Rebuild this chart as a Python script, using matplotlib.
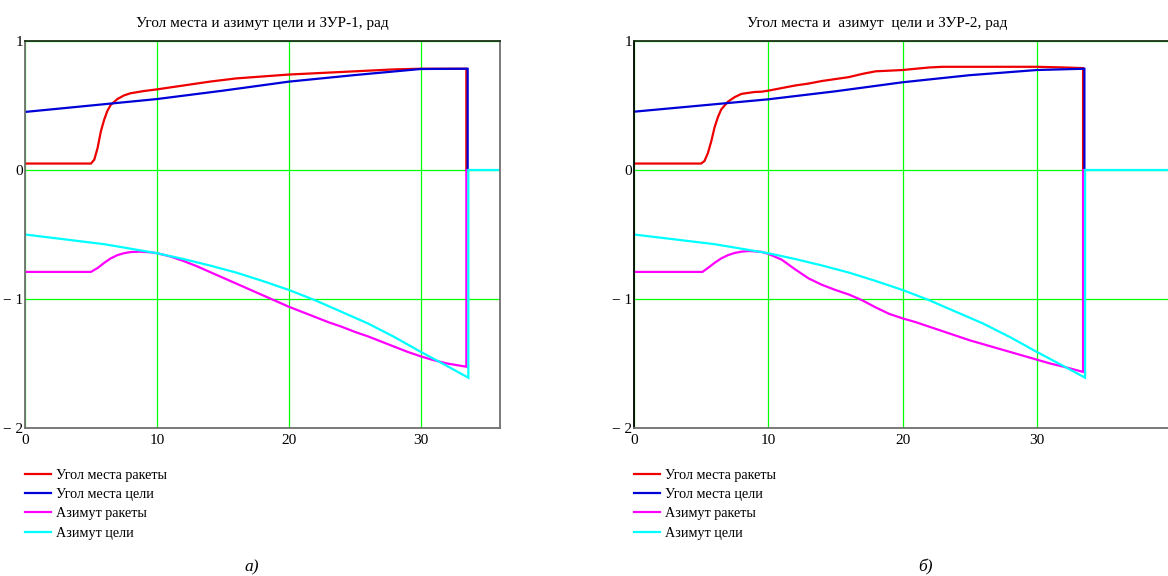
'''recreate the two Mathcad-style plots: elevation and azimuth of target and missile'''
import matplotlib
matplotlib.use('Agg')
import matplotlib.pyplot as plt

plt.rcParams['font.family'] = ['Liberation Serif', 'DejaVu Serif']

# ---- data ----
# panel a) ZUR-1
t_red1 = [0, 5, 5.25, 5.5, 5.75, 6, 6.25, 6.5, 7, 7.5, 8, 9, 10, 12, 14, 16, 18, 20,
          22, 24, 26, 28, 30, 32, 33.45, 33.45]
red1 = [0.05, 0.05, 0.08, 0.17, 0.3, 0.39, 0.46, 0.505, 0.55, 0.578, 0.595, 0.612,
        0.625, 0.655, 0.685, 0.71, 0.725, 0.74, 0.75, 0.76, 0.77, 0.78, 0.785, 0.785,
        0.785, 0]

t_blue = [0, 5, 10, 15, 20, 25, 30, 33.55, 33.55]
blue1 = [0.45, 0.50, 0.55, 0.615, 0.685, 0.736, 0.783, 0.785, 0]

t_mag1 = [0, 5, 5.5, 6, 6.5, 7, 7.5, 8, 8.7, 9.5, 10, 11, 12, 13, 14, 15, 16, 17,
          18, 19, 20, 21, 22, 23, 24, 25, 26, 27, 28, 29, 30, 31, 32, 33.45, 33.45]
mag1 = [-0.79, -0.79, -0.76, -0.72, -0.685, -0.66, -0.645, -0.636, -0.633, -0.638,
        -0.645, -0.67, -0.705, -0.745, -0.79, -0.835, -0.88, -0.925, -0.97, -1.015,
        -1.06, -1.10, -1.14, -1.18, -1.215, -1.255, -1.29, -1.33, -1.37, -1.41,
        -1.445, -1.475, -1.50, -1.525, 0]

t_cyan = [0, 2, 4, 6, 8, 10, 12, 14, 16, 18, 20, 22, 24, 26, 28, 30, 32, 33.6,
          33.6, 40]
cyan1 = [-0.50, -0.525, -0.55, -0.575, -0.61, -0.645, -0.69, -0.74, -0.795, -0.86,
         -0.93, -1.01, -1.10, -1.19, -1.295, -1.41, -1.52, -1.61, 0, 0]

# panel б) ZUR-2
t_red2 = [0, 5, 5.25, 5.5, 5.75, 6, 6.25, 6.5, 7, 7.5, 8, 9, 9.5, 10, 11, 12, 13, 14,
          15, 16, 17, 18, 19, 20, 21, 22, 23, 25, 28, 30, 32, 33.45, 33.45]
red2 = [0.05, 0.05, 0.07, 0.13, 0.22, 0.33, 0.41, 0.47, 0.53, 0.565, 0.59, 0.605,
        0.607, 0.615, 0.635, 0.655, 0.67, 0.69, 0.705, 0.72, 0.745, 0.765, 0.77,
        0.775, 0.785, 0.795, 0.80, 0.80, 0.80, 0.80, 0.795, 0.79, 0]

blue2 = [0.452, 0.50, 0.548, 0.61, 0.68, 0.735, 0.775, 0.785, 0]

t_mag2 = [0, 5.1, 5.5, 6, 6.5, 7, 7.5, 8, 8.6, 9.5, 10, 11, 12, 13, 14, 15, 16, 17,
          18, 19, 20, 21, 22, 23, 24, 25, 26, 27, 28, 29, 30, 31, 32, 33.45, 33.45]
mag2 = [-0.79, -0.79, -0.76, -0.72, -0.685, -0.66, -0.643, -0.633, -0.628, -0.635,
        -0.65, -0.695, -0.77, -0.84, -0.89, -0.93, -0.965, -1.01, -1.065, -1.115,
        -1.15, -1.18, -1.215, -1.25, -1.285, -1.32, -1.35, -1.38, -1.41, -1.44,
        -1.47, -1.50, -1.525, -1.565, 0]

cyan2 = cyan1

labels = ['Угол места ракеты', 'Угол места цели', 'Азимут ракеты', 'Азимут цели']
colors = ['#ee0000', '#0000d8', '#ff00ff', '#00ffff']
xticks = [0, 10, 20, 30]
yticks = [1, 0, -1, -2]
yticklabels = ['1', '0', '\u2212 1', '\u2212 2']
titles = ['Угол места и азимут цели и ЗУР-1, рад', 'Угол места и  азимут  цели и ЗУР-2, рад']
captions = ['а)', 'б)']

W, H = 1168, 576
fig = plt.figure(figsize=(W / 100, H / 100), dpi=100)

# axes boxes in pixels: left, right, top, bottom
boxes = [(25, 500, 41, 428), (634, 1171, 41, 428)]
xmaxs = [36, 40]
title_x = [262, 877]
caption_x = [252, 925]
left_spine = ['#707070', '#000000']

series = [
    [(t_red1, red1), (t_blue, blue1), (t_mag1, mag1), (t_cyan, cyan1)],
    [(t_red2, red2), (t_blue, blue2), (t_mag2, mag2), (t_cyan, cyan2)],
]

for i in range(2):
    l, r, top, bot = boxes[i]
    ax = fig.add_axes([l / W, 1 - bot / H, (r - l) / W, (bot - top) / H])
    for (tx, ty), c, lab in zip(series[i], colors, labels):
        ax.plot(tx, ty, color=c, lw=1.6, label=lab, solid_joinstyle='miter')
    ax.set_xlim(0, xmaxs[i])
    ax.set_ylim(-2, 1)
    ax.set_xticks(xticks)
    ax.set_xticklabels([str(v) for v in xticks])
    ax.set_yticks(yticks)
    ax.set_yticklabels(yticklabels)
    ax.tick_params(length=0, labelsize=11)
    ax.tick_params(axis='y', pad=1.5)
    ax.tick_params(axis='x', pad=4)
    ax.grid(True, color='#00ff00', lw=0.9)
    ax.set_axisbelow(True)
    for side in ['bottom', 'right']:
        ax.spines[side].set_color('#707070')
        ax.spines[side].set_linewidth(1.3)
    ax.spines['left'].set_color(left_spine[i])
    ax.spines['left'].set_linewidth(1.3)
    ax.spines['top'].set_color('#1a301a')
    ax.spines['top'].set_linewidth(1.3)

    ax.legend(loc='upper left', bbox_to_anchor=(0.0, -0.105), frameon=False,
              fontsize=10.2, handlelength=1.8, handletextpad=0.36,
              labelspacing=0.45, borderpad=0, borderaxespad=0)

    fig.text(title_x[i] / W, 1 - 23 / H, titles[i], ha='center', va='center',
             fontsize=11)
    fig.text(caption_x[i] / W, 1 - 567 / H, captions[i], ha='center',
             va='center', fontsize=12.5, style='italic')

fig.savefig('out.png', dpi=100)
